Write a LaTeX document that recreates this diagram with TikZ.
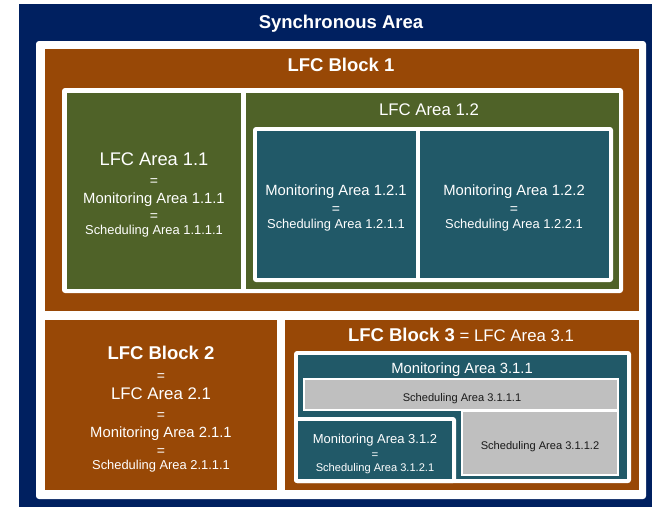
\documentclass[tikz,border=0pt]{standalone}
\usepackage{fontspec}
\setmainfont{Liberation Sans}
\definecolor{syncblue}{RGB}{0,32,96}
\definecolor{blockbrown}{RGB}{152,72,6}
\definecolor{areagreen}{RGB}{79,98,40}
\definecolor{monteal}{RGB}{33,89,104}
\definecolor{schedgray}{RGB}{191,191,191}
\definecolor{darktext}{RGB}{25,25,25}
\tikzset{
  whiteframe/.style={fill=white, rounded corners=3pt},
  lbl/.style={text=white, inner sep=0pt, text height=0.72em, text depth=0pt, yshift=-2.5pt},
  ttl/.style={lbl, font=\fontsize{18.5}{20}\selectfont\bfseries},
  lfc/.style={lbl, font=\fontsize{16.8}{19}\selectfont},
  lfcbig/.style={lbl, font=\fontsize{18.3}{20}\selectfont},
  mon/.style={lbl, font=\fontsize{14.8}{17}\selectfont},
  monsmall/.style={lbl, font=\fontsize{13}{15}\selectfont},
  sch/.style={lbl, font=\fontsize{12.9}{15}\selectfont},
  schsmall/.style={lbl, font=\fontsize{11.1}{13}\selectfont},
  schgray/.style={schsmall, text=darktext},
  eqs/.style={lbl, font=\fontsize{14}{15}\selectfont},
  grayarea/.style={fill=schedgray, draw=white},
}
\begin{document}
\begin{tikzpicture}[x=1pt, y=-1pt]
\useasboundingbox (0,0) rectangle (652,507);
\fill[white] (0,0) rectangle (652,507);

% synchronous area
\fill[syncblue] (19,4) rectangle (652,507);
\node[ttl] (sync) at (341,22) {Synchronous Area};
\fill[whiteframe] (36,41) rectangle (646,499);

% LFC block 1
\fill[blockbrown] (45,49) rectangle (639,311);
\node[ttl] (blk1) at (341,65) {LFC Block 1};
\fill[whiteframe] (62,88) rectangle (623,293);
\fill[areagreen] (67,93) rectangle (241,289);
\fill[areagreen] (246,93) rectangle (619,289);

\node[lfcbig] (a11) at (154,159) {LFC Area 1.1};
\node[eqs] (a11e1) at (154,179) {=};
\node[mon] (m111) at (154,197) {Monitoring Area 1.1.1};
\node[eqs] (a11e2) at (154,214) {=};
\node[sch] (s1111) at (154,228) {Scheduling Area 1.1.1.1};

\node[lfc] (a12) at (429,109) {LFC Area 1.2};
\fill[whiteframe] (253,127) rectangle (613,282);
\fill[monteal] (257,131) rectangle (416,278);
\fill[monteal] (420,131) rectangle (609,278);

\node[mon] (m121) at (336,189) {Monitoring Area 1.2.1};
\node[eqs] (m121e) at (336,207) {=};
\node[sch] (s1211) at (336,222) {Scheduling Area 1.2.1.1};
\node[mon] (m122) at (514,189) {Monitoring Area 1.2.2};
\node[eqs] (m122e) at (514,207) {=};
\node[sch] (s1221) at (514,222) {Scheduling Area 1.2.2.1};

% LFC block 2
\fill[blockbrown] (45,320) rectangle (277,490);
\node[ttl] (blk2) at (161,353) {LFC Block 2};
\node[eqs] (blk2e1) at (161,374) {=};
\node[lfc] (a21) at (161,393) {LFC Area 2.1};
\node[eqs] (blk2e2) at (161,413) {=};
\node[mon] (m211) at (161,431) {Monitoring Area 2.1.1};
\node[eqs] (blk2e3) at (161,449) {=};
\node[sch] (s2111) at (161,463) {Scheduling Area 2.1.1.1};

% LFC block 3
\fill[blockbrown] (285,320) rectangle (639,490);
\node[lbl, font=\fontsize{16.8}{19}\selectfont] (blk3) at (461,335)
  {{\fontsize{18.5}{20}\selectfont\bfseries LFC Block 3} = LFC Area 3.1};
\fill[whiteframe] (294,351) rectangle (631,483);
\fill[monteal] (298,355) rectangle (627,479);
\node[mon] (m311) at (462,367) {Monitoring Area 3.1.1};

\path[grayarea, line width=2pt] (304,379) rectangle (618,410);
\node[schgray] (s3111) at (462,395) {Scheduling Area 3.1.1.1};
\path[grayarea, line width=1.5pt] (462,411) rectangle (618,475);
\node[schgray] (s3112) at (540,443) {Scheduling Area 3.1.1.2};

\fill[whiteframe] (294,417) rectangle (456,483);
\fill[monteal] (298,421) rectangle (452,479);
\node[monsmall] (m312) at (375,437) {Monitoring Area 3.1.2};
\node[eqs, font=\fontsize{11.5}{13}\selectfont] (m312e) at (375,452) {=};
\node[schsmall] (s3121) at (375,465) {Scheduling Area 3.1.2.1};
\end{tikzpicture}
\end{document}
